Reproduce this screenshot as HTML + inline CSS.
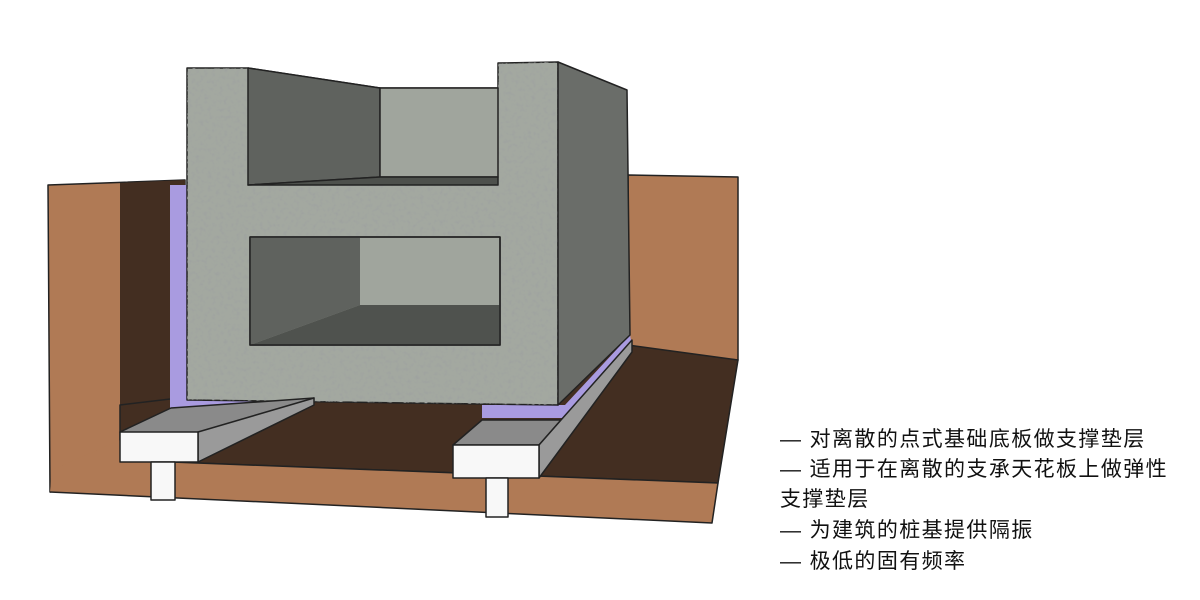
<!DOCTYPE html>
<html><head><meta charset="utf-8"><style>
html,body{margin:0;padding:0;background:#fff;width:1200px;height:600px;overflow:hidden}
svg{position:absolute;left:0;top:0}
.t{position:absolute;left:780px;font-family:"Liberation Sans","Noto Sans CJK SC",sans-serif;font-size:21px;letter-spacing:1.4px;color:#111;line-height:30px;white-space:nowrap}
</style></head><body>
<svg width="1200" height="600" viewBox="0 0 1200 600">
<defs>
<filter id="n" x="0" y="0" width="100%" height="100%">
<feTurbulence type="fractalNoise" baseFrequency="0.25" numOctaves="2" seed="3"/>
<feColorMatrix values="0 0 0 0 0.35  0 0 0 0 0.37  0 0 0 0 0.35  0 0 0 -3 1.6"/>
<feComposite in2="SourceGraphic" operator="in"/>
</filter>
</defs>
<g stroke="#222" stroke-width="1.5" stroke-linejoin="round">
<polygon points="48,185 185,180 185,470 50,492" fill="#b07a55"/>
<polygon points="120,183 185,180 185,440 120,440" fill="#432e21" stroke="none"/>
<polygon points="628,175 738,177 738,360 628,350" fill="#b07a55"/>
<polygon points="120,405 628,345 738,360 718,483 120,460" fill="#432e21"/>
<polygon points="120,440 120,460 718,483 712,523 50,492 52,470" fill="#b07a55" stroke="none"/>
<polyline points="120,460 718,483 712,523 50,492" fill="none"/>
<polygon points="170,185 188,185 188,395 270,398 265,410 170,410" fill="#a99be0" stroke="none"/>
<polygon points="482,405 565,405 630,335 632,345 565,418 482,418" fill="#a99be0" stroke="none"/>
<polygon points="187,68 248,68 380,88 498,88 498,63 558,62 558,405 187,400" fill="#a3a8a0"/>
<polygon points="187,68 248,68 380,88 498,88 498,63 558,62 558,405 187,400" fill="#a3a8a0" filter="url(#n)" stroke="none"/>
<polygon points="558,62 627,90 630,335 558,405" fill="#6a6d69"/>
<polygon points="248,68 380,88 380,177 248,185" fill="#5f625e"/>
<polygon points="380,88 498,88 498,177 380,177" fill="#a0a59d"/>
<polygon points="248,185 380,177 498,177 498,185" fill="#4d504c"/>
<polygon points="250,237 500,237 500,345 250,345" fill="#a0a59d"/>
<polygon points="250,237 360,237 360,305 250,345" fill="#5f625e" stroke="none"/>
<polygon points="250,345 360,305 500,305 500,345" fill="#4f524e" stroke="none"/>
<polygon points="250,237 500,237 500,345 250,345" fill="none"/>
<polygon points="120,432 171,408 314,398 198,462" fill="#8a8a8a"/>
<polygon points="198,432 314,398 314,405 198,462" fill="#9a9a9a"/>
<rect x="120" y="432" width="78" height="30" fill="#f8f8f8"/>
<rect x="151" y="462" width="24" height="38" fill="#f8f8f8"/>
<polygon points="453,445 482,420 561,420 539,445" fill="#8a8a8a"/>
<polygon points="539,445 561,420 632,340 632,352 539,478" fill="#9a9a9a"/>
<rect x="453" y="445" width="86" height="33" fill="#f8f8f8"/>
<rect x="486" y="478" width="22" height="39" fill="#f8f8f8"/>
</g>
</svg>
<div class="t" style="top:425px">— 对离散的点式基础底板做支撑垫层</div>
<div class="t" style="top:455px">— 适用于在离散的支承天花板上做弹性</div>
<div class="t" style="top:485px">支撑垫层</div>
<div class="t" style="top:516px">— 为建筑的桩基提供隔振</div>
<div class="t" style="top:547px">— 极低的固有频率</div>
</body></html>
